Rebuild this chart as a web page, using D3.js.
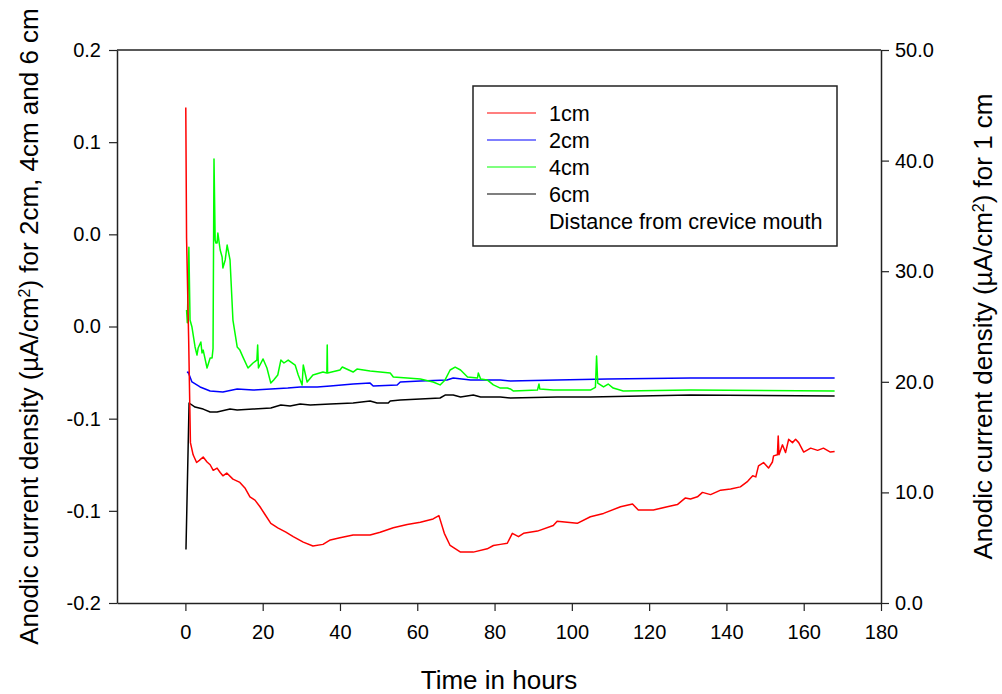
<!DOCTYPE html>
<html>
<head>
<meta charset="utf-8">
<script src="https://cdn.jsdelivr.net/npm/d3@7"></script>
<style>
  body { margin: 0; background: #fff; }
  svg { display: block; }
  text { font-family: "Liberation Sans", Arial, Helvetica, sans-serif; fill: #000; }
</style>
</head>
<body>
<svg id="chart" width="1002" height="694"></svg>
<script>
// ---- data: [hours, current density] ----
// 1 cm from crevice mouth (right axis, µA/cm²)
const series1cm = [[0.1,44.8],[0.3,33.0],[0.85,23.7],[1.3,14.5],[2.0,13.4],[2.9,12.7],[3.6,12.9],[4.6,13.2],[5.6,12.75],[6.4,12.5],[7.2,12.0],[8.2,12.2],[9.0,11.8],[9.7,11.5],[10.7,11.75],[12.3,11.2],[14.1,10.9],[15.4,10.4],[16.7,9.6],[18.0,9.3],[19.3,8.7],[20.6,8.0],[22.1,7.2],[23.9,6.8],[26.0,6.4],[27.9,6.0],[30.5,5.5],[33.0,5.15],[35.6,5.3],[37.5,5.7],[40.0,5.9],[43.4,6.15],[47.8,6.15],[50.4,6.4],[53.8,6.8],[57.4,7.1],[60.8,7.3],[64.1,7.6],[65.6,7.9],[67.0,6.3],[68.5,5.2],[71.2,4.6],[74.5,4.6],[78.1,4.9],[79.7,5.2],[81.5,5.3],[83.3,5.4],[84.6,6.3],[86.2,6.0],[87.5,6.3],[91.1,6.5],[95.2,7.0],[96.2,7.4],[101.4,7.2],[104.8,7.8],[108.2,8.1],[112.6,8.7],[115.7,8.95],[117.2,8.4],[121.1,8.4],[124.7,8.7],[127.3,8.9],[129.4,9.5],[130.7,9.4],[132.5,9.6],[133.8,10.0],[135.9,9.8],[138.5,10.2],[141.1,10.3],[143.6,10.5],[145.5,11.0],[146.8,11.5],[147.6,11.4],[148.3,12.4],[149.6,12.7],[150.9,12.2],[151.9,12.75],[152.2,13.3],[153.2,13.4],[153.4,15.1],[153.6,13.4],[154.5,14.3],[155.3,13.6],[156.1,14.8],[157.1,14.5],[157.9,14.8],[158.7,14.5],[160.0,13.65],[161.8,14.0],[163.6,13.8],[165.1,14.0],[166.9,13.65],[168.0,13.7]];
// 2 cm (left axis)
const series2cm = [[0.4,-0.025],[0.7,-0.0247],[1.7,-0.0301],[3.8,-0.0328],[6.4,-0.0350],[9.7,-0.0355],[13.4,-0.0339],[17.5,-0.0345],[22.1,-0.0339],[26.5,-0.0334],[29.7,-0.0328],[34.1,-0.0328],[37.5,-0.0323],[43.4,-0.0312],[47.8,-0.0307],[48.6,-0.0323],[54.8,-0.0317],[55.6,-0.0301],[60.8,-0.0296],[67.7,-0.0290],[69.3,-0.0279],[73.8,-0.0290],[81.5,-0.0290],[84.1,-0.0296],[96.2,-0.0290],[109.2,-0.0285],[130.7,-0.0279],[168.0,-0.0279]];
// 4 cm (left axis)
const series4cm = [[0.3,0.009],[0.5,0.002],[0.9,0.043],[1.2,0.0035],[1.7,-0.0003],[2.5,-0.0111],[3.0,-0.0155],[3.3,-0.0117],[4.0,-0.0084],[4.3,-0.0144],[4.6,-0.0128],[5.6,-0.0225],[6.4,-0.0171],[6.9,-0.0171],[7.15,-0.012],[7.4,0.0909],[7.7,0.0469],[7.9,0.0453],[8.2,0.0453],[8.4,0.0507],[9.0,0.0415],[9.5,0.0377],[9.7,0.0317],[10.3,0.0361],[10.8,0.0442],[11.55,0.0361],[12.3,0.0035],[13.4,-0.0111],[14.1,-0.0128],[14.9,-0.0166],[16.2,-0.0225],[17.5,-0.0198],[18.5,-0.0182],[18.7,-0.0100],[18.9,-0.0225],[20.1,-0.0176],[21.1,-0.0225],[22.1,-0.0307],[22.85,-0.0290],[23.9,-0.0263],[24.7,-0.0182],[25.5,-0.0198],[26.6,-0.0182],[28.4,-0.0209],[29.2,-0.0263],[30.2,-0.0317],[30.5,-0.0209],[31.5,-0.0301],[33.0,-0.0263],[35.6,-0.0247],[36.6,-0.0252],[36.7,-0.0100],[36.8,-0.0252],[40.0,-0.0236],[40.6,-0.0220],[43.4,-0.0247],[44.4,-0.0231],[47.8,-0.0241],[50.4,-0.0247],[53.0,-0.0252],[53.8,-0.0274],[57.4,-0.0279],[60.8,-0.0285],[64.1,-0.0301],[65.9,-0.0317],[67.2,-0.0290],[68.5,-0.0236],[69.8,-0.0220],[71.2,-0.0236],[73.0,-0.0274],[75.6,-0.0279],[75.8,-0.0252],[76.4,-0.0285],[78.1,-0.0290],[79.7,-0.0317],[81.5,-0.0334],[83.3,-0.0334],[84.1,-0.0339],[84.9,-0.0350],[91.1,-0.0345],[91.5,-0.0312],[91.7,-0.0339],[95.2,-0.0345],[104.8,-0.0345],[106.1,-0.0330],[106.4,-0.0160],[106.7,-0.0307],[108.2,-0.0328],[109.4,-0.0312],[110.7,-0.0334],[113.3,-0.0350],[130.7,-0.0345],[168.0,-0.0350]];
// 6 cm (left axis)
const series6cm = [[0.15,-0.121],[0.95,-0.0415],[2.5,-0.0437],[4.6,-0.0448],[6.4,-0.0464],[8.2,-0.0464],[11.55,-0.0448],[13.4,-0.0453],[17.5,-0.0448],[22.1,-0.0442],[24.7,-0.0426],[27.1,-0.0431],[29.7,-0.0420],[32.3,-0.0426],[37.5,-0.0420],[43.4,-0.0415],[47.8,-0.0404],[49.6,-0.0415],[52.5,-0.0415],[53.0,-0.0404],[55.6,-0.0399],[60.8,-0.0393],[65.9,-0.0388],[67.2,-0.0372],[69.3,-0.0372],[71.2,-0.0382],[74.5,-0.0372],[76.4,-0.0382],[81.5,-0.0382],[84.1,-0.0388],[96.2,-0.0382],[104.8,-0.0382],[130.7,-0.0372],[168.0,-0.0377]];

// ---- axis ticks ----
const xTicks = [0, 20, 40, 60, 80, 100, 120, 140, 160, 180];
const leftTickValues = [-0.15, -0.10, -0.05, 0, 0.05, 0.10, 0.15];
const leftTickLabels = ["-0.2", "-0.1", "-0.1", "0.0", "0.0", "0.1", "0.2"];
const rightTickValues = [0, 10, 20, 30, 40, 50];

const legendNames = ["1cm", "2cm", "4cm", "6cm"];
const legendNote = "Distance from crevice mouth";
const colors = ["#ff0000", "#0000ff", "#00ff00", "#000000"];

// ---- layout ----
const plot = { left: 117, top: 50, right: 881, bottom: 603 };
const svg = d3.select("#chart");

const x = d3.scaleLinear().domain([-17.7, 180]).range([plot.left, plot.right]);
const yLeft = d3.scaleLinear().domain([-0.15, 0.15]).range([plot.bottom, plot.top]);
const yRight = d3.scaleLinear().domain([0, 50]).range([plot.bottom, plot.top]);

// data lines
const lineLeft = d3.line().x(d => x(d[0])).y(d => yLeft(d[1]));
const lineRight = d3.line().x(d => x(d[0])).y(d => yRight(d[1]));

const g = svg.append("g");
[[series2cm, 1], [series4cm, 2], [series6cm, 3]].forEach(([s, ci]) => {
  g.append("path").datum(s).attr("d", lineLeft)
    .attr("fill", "none").attr("stroke", colors[ci]).attr("stroke-width", 1.5)
    .attr("stroke-linejoin", "round");
});
g.append("path").datum(series1cm).attr("d", lineRight)
  .attr("fill", "none").attr("stroke", colors[0]).attr("stroke-width", 1.5)
  .attr("stroke-linejoin", "round");

// axes
const fontSize = 20;
function styleAxis(sel) {
  sel.selectAll("path.domain").attr("stroke", "#222").attr("stroke-width", 1.5);
  sel.selectAll(".tick line").attr("stroke", "#222").attr("stroke-width", 1.2);
  sel.selectAll(".tick text").attr("font-size", fontSize)
    .attr("font-family", "'Liberation Sans', Arial, sans-serif").attr("fill", "#000");
}

svg.append("g").attr("transform", `translate(0,${plot.bottom})`)
  .call(d3.axisBottom(x).tickValues(xTicks).tickSize(8).tickSizeOuter(0).tickPadding(14))
  .call(styleAxis);

svg.append("g").attr("transform", `translate(${plot.left},0)`)
  .call(d3.axisLeft(yLeft).tickValues(leftTickValues)
    .tickFormat((d, i) => leftTickLabels[i]).tickSize(8).tickSizeOuter(0).tickPadding(8))
  .call(styleAxis);

svg.append("g").attr("transform", `translate(${plot.right},0)`)
  .call(d3.axisRight(yRight).tickValues(rightTickValues)
    .tickFormat(d3.format(".1f")).tickSize(8).tickSizeOuter(0).tickPadding(6))
  .call(styleAxis);

// top border
svg.append("line").attr("x1", plot.left).attr("x2", plot.right)
  .attr("y1", plot.top).attr("y2", plot.top)
  .attr("stroke", "#222").attr("stroke-width", 1.5);

// axis titles
const titleSize = 26;
svg.append("text").attr("x", (plot.left + plot.right) / 2).attr("y", 689)
  .attr("text-anchor", "middle").attr("font-size", titleSize).text("Time in hours");

const leftTitle = svg.append("text")
  .attr("transform", `translate(38,${(plot.top + plot.bottom) / 2}) rotate(-90)`)
  .attr("text-anchor", "middle").attr("font-size", titleSize);
leftTitle.append("tspan").text("Anodic current density (\u00b5A/cm");
leftTitle.append("tspan").attr("baseline-shift", "super").attr("font-size", 16).text("2");
leftTitle.append("tspan").text(") for 2cm, 4cm and 6 cm");

const rightTitle = svg.append("text")
  .attr("transform", `translate(992,${(plot.top + plot.bottom) / 2}) rotate(-90)`)
  .attr("text-anchor", "middle").attr("font-size", titleSize);
rightTitle.append("tspan").text("Anodic current density (\u00b5A/cm");
rightTitle.append("tspan").attr("baseline-shift", "super").attr("font-size", 16).text("2");
rightTitle.append("tspan").text(") for 1 cm");

// legend
const legend = svg.append("g").attr("transform", "translate(473,86)");
legend.append("rect").attr("width", 364).attr("height", 160)
  .attr("fill", "#fff").attr("stroke", "#222").attr("stroke-width", 1.5);
const rowH = 27;
const legendFont = 21.6;
legendNames.forEach((name, i) => {
  const yy = 27 + i * rowH;
  legend.append("line").attr("x1", 14).attr("x2", 63).attr("y1", yy).attr("y2", yy)
    .attr("stroke", colors[i]).attr("stroke-width", 1.2);
  legend.append("text").attr("x", 76).attr("y", yy).attr("dy", "0.36em")
    .attr("font-size", legendFont).text(name);
});
legend.append("text").attr("x", 76).attr("y", 27 + 4 * rowH).attr("dy", "0.36em")
  .attr("font-size", legendFont).text(legendNote);
</script>
</body>
</html>
